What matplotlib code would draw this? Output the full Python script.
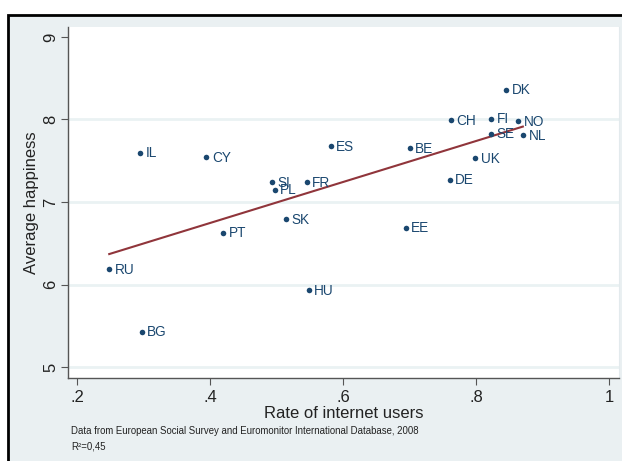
import numpy as np
import matplotlib
matplotlib.use("Agg")
import matplotlib.pyplot as plt
from matplotlib.patches import Rectangle

plt.rcParams["font.family"] = ["Liberation Sans", "DejaVu Sans"]

# data
countries = ["DK", "CH", "FI", "NO", "SE", "NL", "UK", "DE", "BE", "ES", "FR",
             "EE", "IL", "CY", "SI", "PL", "SK", "PT", "HU", "RU", "BG"]
internet = [0.845, 0.762, 0.822, 0.863, 0.822, 0.870, 0.798, 0.760, 0.700,
            0.581, 0.545, 0.694, 0.294, 0.394, 0.493, 0.497, 0.514, 0.419,
            0.548, 0.248, 0.297]
happiness = [8.36, 7.99, 8.01, 7.98, 7.83, 7.81, 7.53, 7.27, 7.65, 7.68,
             7.24, 6.69, 7.60, 7.54, 7.24, 7.15, 6.79, 6.63, 5.93, 6.19, 5.43]
x_ticks = [0.2, 0.4, 0.6, 0.8, 1.0]
x_ticklabels = [".2", ".4", ".6", ".8", "1"]
y_ticks = [5, 6, 7, 8, 9]

navy = "#1a476f"
maroon = "#90353b"
bg = "#eaf0f2"

fig = plt.figure(figsize=(6.22, 4.61), dpi=100)
fig.patch.set_facecolor("white")

# stata-like outer graph region, frame runs off the right/bottom edge
fig.patches.append(Rectangle((8 / 622, -0.05), 1.1, 1.05 - 15 / 461,
                             transform=fig.transFigure, facecolor=bg,
                             edgecolor="black", linewidth=2, zorder=-5))

ax = fig.add_axes([68 / 622, 1 - 378 / 461, 551 / 622, 351 / 461])
ax.set_facecolor("white")
ax.set_xlim(0.186, 1.0146)
ax.set_ylim(4.87, 9.12)

ax.spines["top"].set_visible(False)
ax.spines["right"].set_color("#e3eaed")
for s in ["left", "bottom"]:
    ax.spines[s].set_color("#555555")
    ax.spines[s].set_linewidth(1)

ax.set_yticks(y_ticks)
ax.set_yticklabels([str(v) for v in y_ticks], rotation=90, va="center")
ax.set_xticks(x_ticks)
ax.set_xticklabels(x_ticklabels)
ax.tick_params(axis="both", labelsize=12, color="#555555", length=5,
               labelcolor="#222222")
ax.tick_params(axis="y", pad=2)
for v in y_ticks[:-1]:
    ax.axhline(v, color="#eaf2f3", linewidth=2, zorder=1)

x = np.array(internet)
y = np.array(happiness)
ax.scatter(x, y, s=16, color=navy, zorder=3, linewidths=0)
for c, xi, yi in zip(countries, x, y):
    ax.annotate(c, (xi, yi), xytext=(4, -0.5), textcoords="offset points",
                va="center", ha="left", fontsize=9.8, color=navy)

# linear fit
b, a = np.polyfit(x, y, 1)
xf = np.array([x.min(), x.max()])
ax.plot(xf, a + b * xf, color=maroon, linewidth=1.5, zorder=2)

ax.set_ylabel("Average happiness", fontsize=12, color="#222222", labelpad=3)
ax.set_xlabel("Rate of internet users", fontsize=12, color="#222222", labelpad=1)

fig.text(71 / 622, 1 - 431 / 461, "Data from European Social Survey and "
         "Euromonitor International Database, 2008", fontsize=6.9,
         color="#222222", va="center")
fig.text(71 / 622, 1 - 446 / 461, "R\u00b2=0,45", fontsize=6.9,
         color="#222222", va="center")

fig.savefig("out.png", dpi=100)
